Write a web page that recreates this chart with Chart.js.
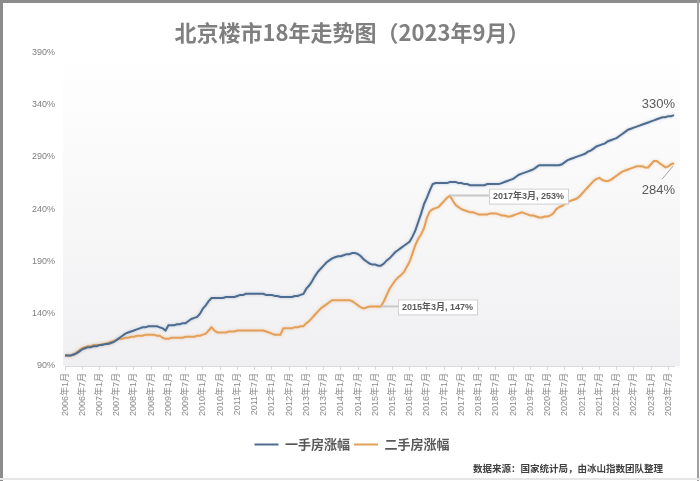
<!DOCTYPE html>
<html>
<head>
<meta charset="utf-8">
<script src="https://cdn.jsdelivr.net/npm/chart.js@4.4.1/dist/chart.umd.min.js"></script>
<style>
  html, body { margin: 0; padding: 0; background: #fff; }
  #wrap { width: 700px; height: 481px; position: relative; }
</style>
</head>
<body>
<div id="wrap"><canvas id="chart" width="700" height="481"></canvas></div>
<script>
// 2006年1月 .. 2023年9月, monthly
const startYear = 2006;
const monthCount = 213;
const seriesNames = ['一手房涨幅', '二手房涨幅'];
const yMin = 90, yMax = 390, yStep = 50;

const firstHand = [
  100,100,100,101,102,104,106,107,108,108,109,109, // 2006
  110,110,111,111,112,113,115,117,119,121,122,123, // 2007
  124,125,126,127,127,128,128,128,128,127,126,124, // 2008
  129,129,129,130,130,131,131,133,135,136,137,140, // 2009
  145,148,152,155,155,155,155,155,156,156,156,156, // 2010
  157,158,158,159,159,159,159,159,159,159,158,158, // 2011
  158,157,157,156,156,156,156,156,157,157,158,159, // 2012
  164,167,171,176,180,183,186,189,191,193,194,195, // 2013
  195,196,197,197,198,198,197,195,192,190,188,187, // 2014
  187,186,186,188,191,193,196,199,201,203,205,207, // 2015
  209,214,220,228,236,245,251,258,264,265,265,265, // 2016
  265,265,266,266,266,265,265,264,264,263,263,263, // 2017
  263,263,263,264,264,264,264,264,265,266,267,268, // 2018
  269,271,273,274,275,276,277,278,280,282,282,282, // 2019
  282,282,282,282,282,283,285,287,288,289,290,291, // 2020
  292,293,295,296,298,300,301,302,303,305,306,307, // 2021
  308,310,312,314,316,317,318,319,320,321,322,323, // 2022
  324,325,326,327,328,328,329,329,330              // 2023
];

const secondHand = [
  100,100,100,101,103,105,107,108,109,109,110,110, // 2006
  110,111,111,112,113,114,115,116,116,117,117,118, // 2007
  118,119,119,119,120,120,120,120,119,119,117,116, // 2008
  116,117,117,117,117,117,118,118,118,118,119,119, // 2009
  120,121,124,127,124,122,122,122,122,123,123,123, // 2010
  124,124,124,124,124,124,124,124,124,124,123,122, // 2011
  121,120,120,120,126,126,126,126,127,127,128,128, // 2012
  131,133,136,139,142,145,147,149,151,153,153,153, // 2013
  153,153,153,153,152,150,148,146,145,146,147,147, // 2014
  147,147,147,152,158,164,168,172,175,177,180,185, // 2015
  190,198,206,212,216,222,232,238,240,241,242,245, // 2016
  248,251,253,248,244,242,240,239,238,237,237,236, // 2017
  235,235,235,235,236,236,236,235,234,234,233,233, // 2018
  234,235,236,237,236,235,234,234,233,232,232,233, // 2019
  233,234,236,240,242,243,245,247,248,249,250,252, // 2020
  255,258,261,264,267,269,270,268,267,267,268,270, // 2021
  272,274,276,277,278,279,280,281,281,281,280,280, // 2022
  283,286,286,284,282,280,281,283,284              // 2023
];

// months (index into secondHand) that get a boxed callout
const calloutMonths = [110, 134];

const monthLabels = [];
for (let i = 0; i < monthCount; i++) {
  monthLabels.push(`${startYear + Math.floor(i / 12)}年${i % 12 + 1}月`);
}

const BLUE = '#4d6c8f';
const ORANGE = '#e3a05a';
const CJK = "'Liberation Sans', 'Noto Sans CJK SC', sans-serif";

Chart.defaults.font.family = CJK;

const decor = {
  id: 'decor',
  beforeDraw(chart) {
    const { ctx, chartArea: a } = chart;
    ctx.save();
    const g = ctx.createLinearGradient(0, a.top, 0, a.bottom);
    g.addColorStop(0, '#ffffff');
    g.addColorStop(1, '#f0f0f2');
    ctx.fillStyle = g;
    ctx.fillRect(a.left - 2, a.top, a.right - a.left + 8, a.bottom - a.top);
    ctx.restore();
  },
  beforeDatasetDraw(chart, args) {
    const ctx = chart.ctx;
    ctx.save();
    ctx.shadowColor = args.index === 0 ? 'rgba(77,108,143,0.35)' : 'rgba(240,170,100,0.5)';
    ctx.shadowBlur = 3;
  },
  afterDatasetDraw(chart) {
    chart.ctx.restore();
  },
  afterDatasetsDraw(chart) {
    const ctx = chart.ctx;
    const blue = chart.getDatasetMeta(0).data;
    const orange = chart.getDatasetMeta(1).data;
    ctx.save();

    // end values
    const pb = blue[blue.length - 1];
    const po = orange[orange.length - 1];
    ctx.font = '13px ' + CJK;
    ctx.fillStyle = '#595959';
    ctx.textAlign = 'right';
    ctx.textBaseline = 'middle';
    ctx.fillText(firstHand[firstHand.length - 1] + '%', pb.x + 1, pb.y - 11);
    ctx.fillText(secondHand[secondHand.length - 1] + '%', po.x + 1, po.y + 27);
    ctx.strokeStyle = '#a6a6a6';
    ctx.lineWidth = 1;
    ctx.beginPath();
    ctx.moveTo(po.x - 1, po.y + 3);
    ctx.lineTo(po.x - 12, po.y + 16);
    ctx.stroke();

    // boxed callouts
    const offsets = [17, 39];
    calloutMonths.forEach((m, i) => {
      const p = orange[m];
      const text = `${monthLabels[m]}, ${secondHand[m]}%`;
      ctx.font = 'bold 9px ' + CJK;
      const w = ctx.measureText(text).width + 8;
      const bx = p.x + offsets[i];
      const by = p.y - 7;
      ctx.strokeStyle = '#c8c8c8';
      ctx.lineWidth = 2;
      ctx.beginPath();
      ctx.moveTo(p.x, p.y);
      ctx.lineTo(bx, by + 7);
      ctx.stroke();
      ctx.fillStyle = '#ffffff';
      ctx.fillRect(bx, by, w, 15);
      ctx.strokeStyle = '#d0d0d0';
      ctx.lineWidth = 1;
      ctx.strokeRect(bx + 0.5, by + 0.5, w, 15);
      ctx.fillStyle = '#595959';
      ctx.textAlign = 'left';
      ctx.fillText(text, bx + 4, by + 8);
    });
    ctx.restore();
  },
  afterDraw(chart) {
    const ctx = chart.ctx;
    ctx.save();
    ctx.font = 'bold 9.5px ' + CJK;
    ctx.fillStyle = '#404040';
    ctx.textAlign = 'right';
    ctx.textBaseline = 'middle';
    ctx.fillText('数据来源：国家统计局，由冰山指数团队整理', 663, 469);
    // photo frame edges
    ctx.fillStyle = '#8c8c8c';
    ctx.fillRect(0, 0, 700, 3);
    ctx.fillRect(0, 0, 3, 481);
    ctx.fillStyle = '#a0a0a0';
    ctx.fillRect(697, 0, 2, 481);
    ctx.fillStyle = '#e6e6e6';
    ctx.fillRect(0, 478, 700, 2);
    ctx.restore();
  }
};

new Chart(document.getElementById('chart'), {
  type: 'line',
  data: {
    labels: monthLabels,
    datasets: [
      { label: seriesNames[0], data: firstHand, borderColor: BLUE, backgroundColor: BLUE, borderWidth: 2, pointRadius: 0, tension: 0, fill: false },
      { label: seriesNames[1], data: secondHand, borderColor: ORANGE, backgroundColor: ORANGE, borderWidth: 2, pointRadius: 0, tension: 0, fill: false }
    ]
  },
  options: {
    responsive: false,
    animation: false,
    layout: { padding: { left: 30, right: 26, top: 0, bottom: 20 } },
    scales: {
      x: {
        ticks: {
          autoSkip: false,
          minRotation: 90,
          maxRotation: 90,
          padding: 3,
          color: '#8c8c8c',
          font: { size: 9 },
          callback: function (v, i) { return i % 6 === 0 ? monthLabels[i] : ''; }
        },
        grid: {
          drawOnChartArea: false,
          tickLength: 4,
          color: c => (c.index % 6 === 0 ? '#d9d9d9' : 'rgba(0,0,0,0)')
        },
        border: { display: true, color: '#d9d9d9' },
        afterFit: s => { s.height = 68; }
      },
      y: {
        min: yMin,
        max: yMax,
        ticks: { stepSize: yStep, color: '#7f7f7f', font: { size: 9 }, padding: 2, callback: v => v + '%' },
        grid: { display: false },
        border: { display: false }
      }
    },
    plugins: {
      title: {
        display: true,
        text: '北京楼市18年走势图（2023年9月）',
        color: '#7f7f7f',
        font: { size: 22, weight: 'bold', family: "'Noto Sans CJK SC', sans-serif" },
        padding: { top: 19, bottom: 7 }
      },
      legend: {
        position: 'bottom',
        labels: {
          usePointStyle: true,
          pointStyle: 'line',
          pointStyleWidth: 24,
          padding: 4,
          color: '#595959',
          font: { size: 13, weight: 'bold', family: "'Noto Sans CJK SC', sans-serif" }
        }
      },
      tooltip: { enabled: false }
    }
  },
  plugins: [decor]
});
</script>
</body>
</html>
